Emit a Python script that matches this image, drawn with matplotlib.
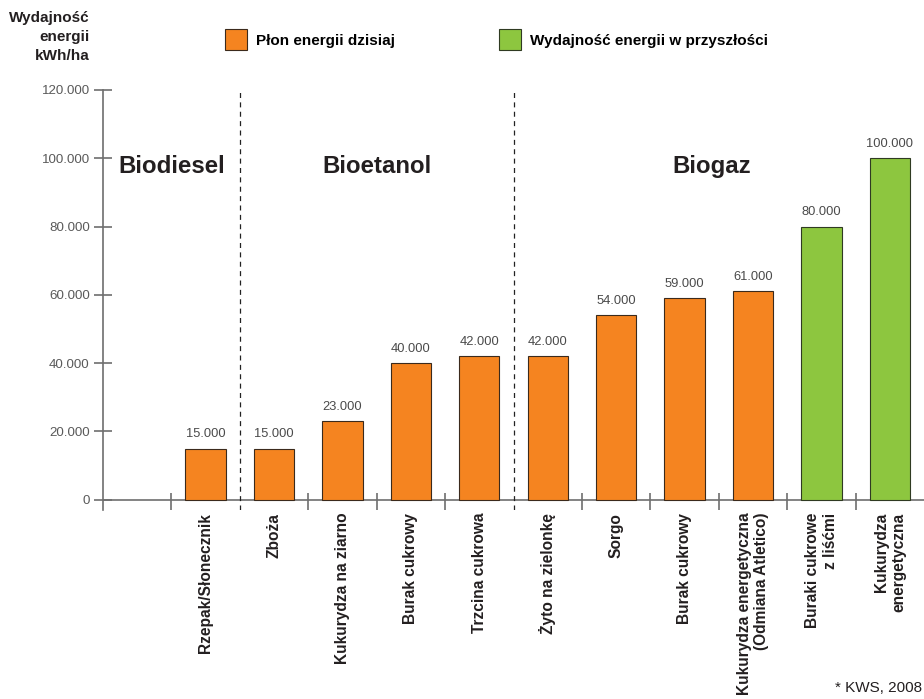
import matplotlib

matplotlib.use("Agg")
import matplotlib.pyplot as plt
from matplotlib.ticker import FuncFormatter

plt.rcParams["font.family"] = ["Liberation Sans", "DejaVu Sans"]

# Dane (kWh/ha)
today_labels = [
    "Rzepak/Słonecznik",
    "Zboża",
    "Kukurydza na ziarno",
    "Burak cukrowy",
    "Trzcina cukrowa",
    "Żyto na zielonkę",
    "Sorgo",
    "Burak cukrowy",
    "Kukurydza energetyczna\n(Odmiana Atletico)",
]
today_values = [15000, 15000, 23000, 40000, 42000, 42000, 54000, 59000, 61000]

future_labels = ["Buraki cukrowe\nz liśćmi", "Kukurydza\nenergetyczna"]
future_values = [80000, 100000]

groups = ["Biodiesel", "Bioetanol", "Biogaz"]
group_x = [0.5, 3.5, 8.4]
group_dividers = [1.5, 5.5]

y_ticks = [0, 20000, 40000, 60000, 80000, 100000, 120000]

ORANGE = "#F58420"
GREEN = "#8DC63F"
GREY = "#6E6E6E"

# Pierwsza pozycja na osi X jest pusta
today_x = list(range(1, 1 + len(today_values)))
future_x = list(range(today_x[-1] + 1, today_x[-1] + 1 + len(future_values)))
n_slots = future_x[-1] + 1

fig = plt.figure(figsize=(9.24, 6.99), dpi=100)
ax = fig.add_axes([103 / 924, (699 - 510) / 699, 1 - 103 / 924, (510 - 90) / 699])

bar_w = 0.59
b1 = ax.bar(today_x, today_values, width=bar_w, color=ORANGE, edgecolor="#3b2a1c",
            linewidth=0.8, label="Płon energii dzisiaj", zorder=3)
b2 = ax.bar(future_x, future_values, width=bar_w, color=GREEN, edgecolor="#2f3a22",
            linewidth=0.8, label="Wydajność energii w przyszłości", zorder=3)

for x, v in zip(today_x + future_x, today_values + future_values):
    ax.annotate(f"{v:,}".replace(",", "."), (x, v), xytext=(0, 6), textcoords="offset points",
                ha="center", va="bottom", fontsize=9.3, color="#4a4a4a")

ax.set_xlim(-0.5, n_slots - 0.5)
ax.set_ylim(-3000, 120000)

# oś X rysowana na poziomie zera
ax.axhline(0, color=GREY, linewidth=1.2, zorder=2)
boundaries = [i + 0.5 for i in range(n_slots - 1)]
solid = [b for b in boundaries if b not in group_dividers]
ax.vlines(solid, -2900, 2050, color=GREY, linewidth=1.2, zorder=2)
ax.vlines(group_dividers, -3000, 120000, color="#222222", linewidth=0.9,
          linestyles=(0, (4, 3.5)), zorder=2)

for name, gx in zip(groups, group_x):
    ax.text(gx, 97500, name, ha="center", va="center", fontsize=17.3, fontweight="bold", color="#231f20")

for side in ["top", "right", "bottom"]:
    ax.spines[side].set_visible(False)
ax.spines["left"].set_color(GREY)
ax.spines["left"].set_linewidth(1.2)

ax.set_yticks(y_ticks)
ax.yaxis.set_major_formatter(FuncFormatter(lambda v, p: f"{int(v):,}".replace(",", ".")))
ax.tick_params(axis="y", direction="inout", length=13, width=1.2, color=GREY,
               labelsize=9.6, labelcolor="#5a5a5a", pad=3)

ax.set_xticks(today_x + future_x)
ax.set_xticklabels(today_labels + future_labels, rotation=90, fontsize=11.2, fontweight="bold",
                   color="#231f20", ha="center", va="top", multialignment="right")
ax.tick_params(axis="x", length=0, pad=2)

fig.text(90 / 924, 1 - 11 / 699, "Wydajność\nenergii\nkWh/ha", ha="right", va="top",
         fontsize=11, fontweight="bold", color="#231f20", linespacing=1.45)

fig.legend(handles=[b1, b2], loc="upper left", bbox_to_anchor=(225 / 924, 1 - 29 / 699),
           ncol=2, frameon=False, prop={"weight": "bold", "size": 11},
           handlelength=1.45, handleheight=1.75, handletextpad=0.55, columnspacing=6.85,
           borderpad=0, borderaxespad=0)

fig.text(922 / 924, 1 - 688 / 699, "* KWS, 2008", ha="right", va="center", fontsize=11, color="#231f20")

fig.savefig("out.png", dpi=100)
